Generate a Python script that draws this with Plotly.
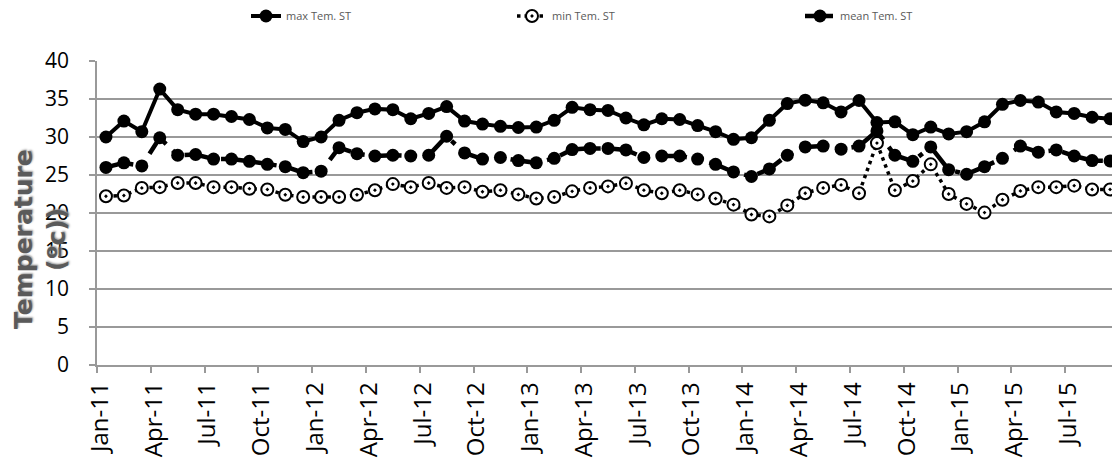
import plotly.graph_objects as go

months = ["Jan", "Feb", "Mar", "Apr", "May", "Jun", "Jul", "Aug", "Sep", "Oct", "Nov", "Dec"]
month_labels = [f"{m}-{y:02d}" for y in range(11, 16) for m in months][:57]

max_temp = [30.0, 32.1, 30.7, 36.3, 33.6, 33.0, 33.0, 32.7, 32.3, 31.2, 31.0, 29.4,
            30.0, 32.2, 33.2, 33.7, 33.6, 32.4, 33.1, 34.0, 32.1, 31.7, 31.4, 31.25,
            31.3, 32.2, 33.9, 33.6, 33.5, 32.5, 31.6, 32.4, 32.3, 31.5, 30.7, 29.7,
            29.9, 32.2, 34.4, 34.85, 34.5, 33.3, 34.8, 31.9, 32.0, 30.3, 31.3, 30.4,
            30.7, 32.0, 34.3, 34.8, 34.6, 33.3, 33.1, 32.6, 32.4]
min_temp = [22.2, 22.3, 23.3, 23.4, 23.95, 23.95, 23.4, 23.4, 23.2, 23.1, 22.4, 22.1,
            22.1, 22.1, 22.4, 23.0, 23.8, 23.4, 23.95, 23.3, 23.4, 22.8, 23.0, 22.45,
            21.9, 22.1, 22.85, 23.3, 23.5, 23.9, 23.0, 22.6, 23.0, 22.45, 21.9, 21.1,
            19.8, 19.55, 21.0, 22.6, 23.3, 23.7, 22.6, 29.2, 23.0, 24.2, 26.4, 22.5,
            21.2, 20.05, 21.75, 22.9, 23.4, 23.4, 23.6, 23.1, 23.1]
mean_temp = [26.0, 26.6, 26.2, 29.9, 27.6, 27.7, 27.1, 27.1, 26.8, 26.4, 26.1, 25.3,
             25.5, 28.6, 27.8, 27.5, 27.6, 27.5, 27.6, 30.1, 27.9, 27.1, 27.3, 26.9,
             26.6, 27.2, 28.35, 28.5, 28.5, 28.3, 27.3, 27.5, 27.5, 27.1, 26.4, 25.4,
             24.8, 25.8, 27.6, 28.7, 28.8, 28.4, 28.8, 30.8, 27.6, 26.8, 28.7, 25.7,
             25.1, 26.1, 27.2, 28.8, 28.0, 28.3, 27.5, 26.9, 26.85]

series_names = ["max Tem. ST", "min Tem. ST", "mean Tem. ST"]
y_title_lines = ["Temperature", "(ºc))"]

n = len(month_labels)
x = list(range(n))

fig = go.Figure()
fig.add_trace(go.Scatter(
    x=x, y=max_temp, name=series_names[0], mode="lines+markers",
    line=dict(color="black", width=4),
    marker=dict(symbol="circle", size=13, color="black"),
    text=month_labels, legend="legend",
))
fig.add_trace(go.Scatter(
    x=x, y=min_temp, name=series_names[1], mode="lines+markers",
    line=dict(color="black", width=3.5, dash="3.5px,4px"),
    marker=dict(symbol="circle-dot", size=12, color="white",
                line=dict(color="black", width=2)),
    text=month_labels, legend="legend2",
))
fig.add_trace(go.Scatter(
    x=x, y=mean_temp, name=series_names[2], mode="lines+markers",
    line=dict(color="black", width=4.5, dash="28px,9px,5px,9px"),
    marker=dict(symbol="circle", size=13, color="black"),
    text=month_labels, legend="legend3",
))

tick_idx = list(range(0, n, 3))
tickvals = [i - 0.5 for i in tick_idx] + [n - 0.5]
ticktext = [month_labels[i] for i in tick_idx] + [""]

W, H = 1112, 458
PL, PT, PW, PH = 89, 53, 1022, 304
grid = "#999999"
leg_common = dict(
    xref="container", yref="container", xanchor="left", yanchor="middle",
    y=1 - 8 / H,
    font=dict(size=11, color="#595959", family="Open Sans"),
    bgcolor="rgba(0,0,0,0)", borderwidth=0,
)
title_font = dict(size=25, family="DejaVu Sans", color="#5a5a5a",
                  shadow="1px 1px 2px #999999")
fig.update_layout(
    width=W, height=H,
    margin=dict(l=PL, r=1, t=PT, b=H - PT - PH, autoexpand=False),
    paper_bgcolor="white", plot_bgcolor="white",
    font=dict(family="Open Sans", color="#000000"),
    showlegend=True,
    legend=dict(x=238 / W, **leg_common),
    legend2=dict(x=504 / W, **leg_common),
    legend3=dict(x=792 / W, **leg_common),
    xaxis=dict(
        range=[-0.5, n - 0.5], tickmode="array", tickvals=tickvals, ticktext=ticktext,
        tickangle=-90, ticklabelshift=3, automargin=False,
        ticks="outside", ticklen=6, tickcolor=grid, tickwidth=1.5,
        showline=True, linecolor=grid, linewidth=1.5,
        showgrid=False, zeroline=False,
        tickfont=dict(size=24, family="Open Sans", color="#000000"),
    ),
    yaxis=dict(
        range=[0, 40], dtick=5, tick0=0, automargin=False,
        ticks="outside", ticklen=6, tickcolor=grid, tickwidth=1.5,
        ticklabelstandoff=16,
        showline=True, linecolor=grid, linewidth=1.5,
        showgrid=True, gridcolor=grid, gridwidth=1.5, zeroline=False,
        tickfont=dict(size=21, family="Open Sans", color="#000000"),
    ),
    annotations=[
        dict(text=f"<b>{y_title_lines[0]}</b>", textangle=-90, showarrow=False,
             xref="paper", yref="paper", x=(15 - PL) / PW, y=(PT + PH - 231) / PH,
             xanchor="center", yanchor="middle", font=title_font),
        dict(text=f"<b>{y_title_lines[1]}</b>", textangle=-90, showarrow=False,
             xref="paper", yref="paper", x=(48 - PL) / PW, y=(PT + PH - 232) / PH,
             xanchor="center", yanchor="middle", font=title_font),
    ],
)

fig.write_html("out.html")
